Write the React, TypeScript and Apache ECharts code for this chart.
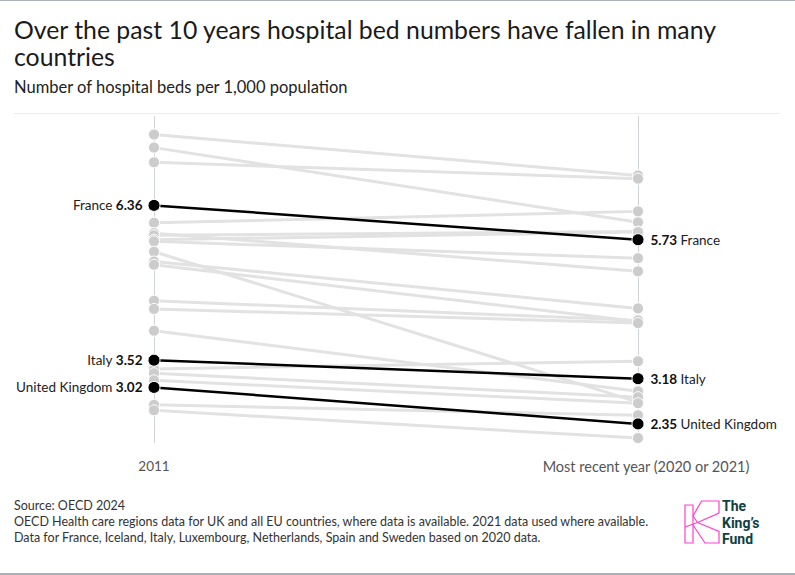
import React, { useEffect, useRef } from "react";
import * as echarts from "echarts";

// Two time points on the x axis
const periods = ["2011", "Most recent year (2020 or 2021)"];

// Countries called out in black
const highlightNames = ["France", "Italy", "United Kingdom"];
const highlight2011 = [6.36, 3.52, 3.02];
const highlightRecent = [5.73, 3.18, 2.35];

// Remaining countries, drawn in grey (beds per 1,000 population)
const other2011 = [7.66, 7.42, 7.15, 6.04, 5.85, 5.81, 5.73, 5.7, 5.51, 5.33, 5.27, 4.61, 4.46, 4.06, 3.36, 3.28, 3.15, 2.7, 2.6];
const otherRecent = [6.91, 6.05, 6.85, 6.25, 5.15, 5.88, 5.87, 5.39, 2.75, 4.47, 4.23, 4.25, 4.2, 2.95, 3.5, 2.84, 2.73, 2.51, 2.09];

const footnotes = [
  "Source: OECD 2024",
  "OECD Health care regions data for UK and all EU countries, where data is available. 2021 data used where available.",
  "Data for France, Iceland, Italy, Luxembourg, Netherlands, Spain and Sweden based on 2020 data.",
];

const logoWords = ["The", "King’s", "Fund"];

const FONT = "Lato, 'Noto Sans', sans-serif";
const PINK = "#ff3fd4";

export default function App() {
  const ref = useRef<HTMLDivElement>(null);

  useEffect(() => {
    if (!ref.current) return;
    const chart = echarts.init(ref.current, undefined, { renderer: "svg" });

    const greySeries = other2011.map((start, i) => ({
      type: "line",
      data: [start, otherRecent[i]],
      symbol: "circle",
      symbolSize: 11,
      silent: true,
      z: 2,
      lineStyle: { color: "#e2e2e2", width: 3 },
      itemStyle: { color: "#cccccc", borderColor: "#ffffff", borderWidth: 1 },
    }));

    const rich = {
      n: { fontSize: 13.5, color: "#222", fontFamily: FONT },
      v: { fontSize: 13.5, color: "#111", fontWeight: "bold", fontFamily: FONT },
    };

    const blackSeries = highlightNames.map((name, i) => ({
      type: "line",
      name,
      data: [
        {
          value: highlight2011[i],
          label: {
            show: true,
            position: "left",
            distance: 5,
            formatter: `{n|${name}} {v|${highlight2011[i].toFixed(2)}}`,
            rich,
          },
        },
        {
          value: highlightRecent[i],
          label: {
            show: true,
            position: "right",
            distance: 6,
            formatter: `{v|${highlightRecent[i].toFixed(2)}} {n|${name}}`,
            rich,
          },
        },
      ],
      symbol: "circle",
      symbolSize: 12,
      silent: true,
      z: 3,
      lineStyle: { color: "#000000", width: 2.5 },
      itemStyle: { color: "#000000", borderColor: "#ffffff", borderWidth: 1 },
    }));

    const footerGraphics = footnotes.map((t, i) => ({
      type: "text",
      left: 14,
      top: 499 + i * 16,
      style: { text: t, fontSize: 12.5, fill: "#333", fontFamily: FONT },
    }));

    const logoText = logoWords.map((w, i) => ({
      type: "text",
      left: 722,
      top: 499 + i * 16.5,
      style: {
        text: w,
        fontSize: 14,
        fontWeight: "bold",
        fill: "#103f3f",
        fontFamily: "Roboto, Inter, sans-serif",
      },
    }));

    chart.setOption({
      animation: false,
      backgroundColor: "#ffffff",
      grid: { left: 154, right: 157, top: 116, bottom: 132 },
      xAxis: {
        type: "category",
        data: periods,
        boundaryGap: false,
        axisLine: { show: false },
        axisTick: { show: false },
        axisLabel: {
          color: "#555",
          fontSize: 14,
          margin: 16,
          fontFamily: FONT,
          formatter: (v: string, i: number) => (i === 0 ? `{a|${v}}` : `{b|${v}}`),
          rich: {
            a: { color: "#555", fontSize: 13.5, fontFamily: FONT },
            b: { color: "#555", fontSize: 14.5, fontFamily: FONT, padding: [0, 0, 0, 16] },
          },
        },
        splitLine: { show: true, interval: 0, lineStyle: { color: "#cfd4d9", width: 1 } },
      },
      yAxis: {
        type: "value",
        min: 2,
        max: 8,
        show: false,
      },
      series: [...greySeries, ...blackSeries],
      graphic: [
        { type: "rect", shape: { x: 0, y: 0, width: 795, height: 1 }, style: { fill: "#a9b0b6" } },
        { type: "rect", shape: { x: 0, y: 573, width: 795, height: 2 }, style: { fill: "#a9b0b6" } },
        {
          type: "text",
          left: 14,
          top: 16,
          style: {
            text: "Over the past 10 years hospital bed numbers have fallen in many\ncountries",
            fontSize: 24.8,
            lineHeight: 27,
            fill: "#1a1a1a",
            fontFamily: FONT,
          },
        },
        {
          type: "text",
          left: 14,
          top: 78,
          style: {
            text: "Number of hospital beds per 1,000 population",
            fontSize: 16.5,
            fill: "#222",
            fontFamily: FONT,
          },
        },
        {
          type: "line",
          shape: { x1: 14, y1: 113.5, x2: 780, y2: 113.5 },
          style: { stroke: "#f3ecdc", lineWidth: 1 },
        },
        ...footerGraphics,
        // Logo mark
        {
          type: "group",
          children: [
            { type: "rect", shape: { x: 685, y: 505, width: 8, height: 38 }, style: { fill: "none", stroke: PINK, lineWidth: 1.2 } },
            {
              type: "polyline",
              shape: { points: [[693, 516], [701.5, 501], [719, 501], [719, 513], [697.5, 522.5]] },
              style: { fill: "none", stroke: PINK, lineWidth: 1.2 },
            },
            {
              type: "polyline",
              shape: { points: [[697.5, 522.5], [719, 531.5], [719, 543], [705, 543], [693, 525]] },
              style: { fill: "none", stroke: PINK, lineWidth: 1.2 },
            },
            { type: "line", shape: { x1: 685, y1: 527, x2: 697.5, y2: 522.5 }, style: { stroke: PINK, lineWidth: 1.2 } },
            { type: "line", shape: { x1: 693, y1: 516, x2: 697.5, y2: 522.5 }, style: { stroke: PINK, lineWidth: 1.2 } },
          ],
        },
        ...logoText,
      ],
    });

    return () => chart.dispose();
  }, []);

  return (
    <div
      ref={ref}
      style={{ position: "fixed", left: 0, top: 0, width: 795, height: 575, background: "#fff" }}
    />
  );
}
